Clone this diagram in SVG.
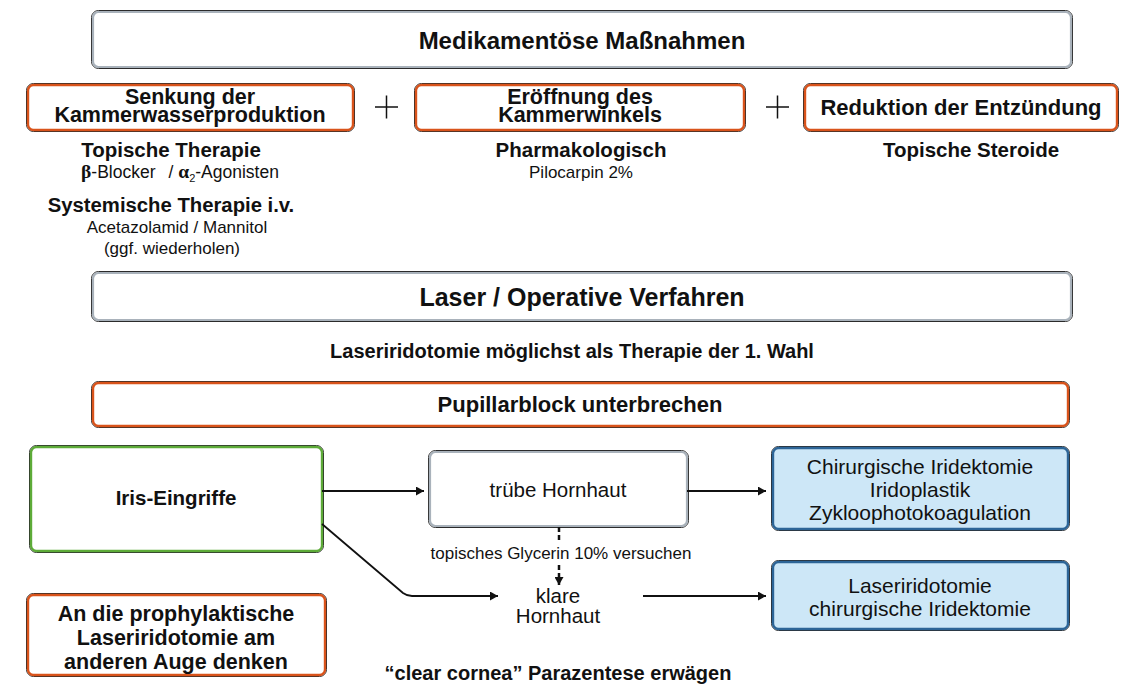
<svg xmlns="http://www.w3.org/2000/svg" width="1127" height="685" viewBox="0 0 1127 685">
<defs>
<style>
.b{font-family:"Liberation Sans",Arial,sans-serif;font-weight:bold;fill:#111;}
.r{font-family:"Liberation Sans",Arial,sans-serif;fill:#111;}
.gs{font-family:"Liberation Serif","Times New Roman",serif;font-weight:bold;}
.o{fill:none;stroke:#2b2b2b;stroke-width:1;}
.ig{fill:#fff;stroke:#a9b2bb;stroke-width:2.2;}
.io{fill:#fff;stroke:#d9531b;stroke-width:2.4;}
.ign{fill:#fff;stroke:#5dab38;stroke-width:2.4;}
.ib{fill:#cde7f7;stroke:#2d6597;stroke-width:2.4;}
.ln{fill:none;stroke:#111;stroke-width:1.8;}
.dl{fill:none;stroke:#111;stroke-width:2.5;stroke-dasharray:5 3;}
.pl{stroke:#111;stroke-width:1.5;}
</style>
<marker id="ah" markerWidth="9" markerHeight="9" refX="8" refY="4.5" orient="auto" markerUnits="userSpaceOnUse">
<path d="M0,0 L8,4.5 L0,9 z" fill="#111"/>
</marker>
</defs>

<g id="n-medikamentoes">
<rect class="o" x="91.5" y="10.5" width="981" height="58" rx="7"/>
<rect class="ig" x="93" y="12" width="978" height="55" rx="5.5"/>
<text class="b" x="582" y="49" font-size="24" text-anchor="middle">Medikamentöse Maßnahmen</text>
</g>

<g id="n-senkung">
<rect class="o" x="26.5" y="83.5" width="328" height="48" rx="7"/>
<rect class="io" x="28" y="85" width="325" height="45" rx="5.5"/>
<text class="b" x="190" y="104" font-size="21.5" text-anchor="middle">Senkung der</text>
<text class="b" x="190" y="122" font-size="21.5" text-anchor="middle">Kammerwasserproduktion</text>
</g>

<g id="plus1"><line class="pl" x1="375" y1="107" x2="398" y2="107"/><line class="pl" x1="386.5" y1="95.5" x2="386.5" y2="118.5"/></g>

<g id="n-eroeffnung">
<rect class="o" x="414.5" y="83.5" width="331" height="48" rx="7"/>
<rect class="io" x="416" y="85" width="328" height="45" rx="5.5"/>
<text class="b" x="580" y="104" font-size="21.5" text-anchor="middle">Eröffnung des</text>
<text class="b" x="580" y="122" font-size="21.5" text-anchor="middle">Kammerwinkels</text>
</g>

<g id="plus2"><line class="pl" x1="766" y1="107" x2="789" y2="107"/><line class="pl" x1="777.5" y1="95.5" x2="777.5" y2="118.5"/></g>

<g id="n-reduktion">
<rect class="o" x="803.5" y="83.5" width="315" height="48" rx="7"/>
<rect class="io" x="805" y="85" width="312" height="45" rx="5.5"/>
<text class="b" x="961" y="115" font-size="22" text-anchor="middle">Reduktion der Entzündung</text>
</g>

<g id="t-senkung-details">
<text class="b" x="171" y="157" font-size="20.5" text-anchor="middle">Topische Therapie</text>
<text class="r" x="180" y="178" font-size="17.5" text-anchor="middle"><tspan class="gs" font-size="19.5">β</tspan>-Blocker<tspan dx="13">/ </tspan><tspan class="gs" font-size="19.5">α</tspan><tspan font-size="11" dy="4">2</tspan><tspan dy="-4">-Agonisten</tspan></text>
<text class="b" x="171" y="212" font-size="20.3" text-anchor="middle">Systemische Therapie i.v.</text>
<text class="r" x="177" y="233" font-size="17" text-anchor="middle">Acetazolamid / Mannitol</text>
<text class="r" x="172" y="254" font-size="17" text-anchor="middle">(ggf. wiederholen)</text>
</g>

<g id="t-eroeffnung-details">
<text class="b" x="581" y="157" font-size="20.5" text-anchor="middle">Pharmakologisch</text>
<text class="r" x="581" y="178" font-size="17" text-anchor="middle">Pilocarpin 2%</text>
</g>

<g id="t-reduktion-details">
<text class="b" x="971" y="157" font-size="20.5" text-anchor="middle">Topische Steroide</text>
</g>

<g id="n-laser">
<rect class="o" x="91.5" y="271.5" width="981" height="50" rx="7"/>
<rect class="ig" x="93" y="273" width="978" height="47" rx="5.5"/>
<text class="b" x="582" y="306" font-size="25" text-anchor="middle">Laser / Operative Verfahren</text>
</g>

<g id="t-laseriridotomie">
<text class="b" x="572" y="358" font-size="20" text-anchor="middle">Laseriridotomie möglichst als Therapie der 1. Wahl</text>
</g>

<g id="n-pupillarblock">
<rect class="o" x="91.5" y="381.5" width="978" height="46" rx="7"/>
<rect class="io" x="93" y="383" width="975" height="43" rx="5.5"/>
<text class="b" x="580" y="412" font-size="22" text-anchor="middle">Pupillarblock unterbrechen</text>
</g>

<g id="n-iris">
<rect class="o" x="29.5" y="445.5" width="294" height="107" rx="7"/>
<rect class="ign" x="31" y="447" width="291" height="104" rx="5.5"/>
<text class="b" x="176" y="505" font-size="20.5" text-anchor="middle">Iris-Eingriffe</text>
</g>

<g id="n-prophylaktisch">
<rect class="o" x="26.5" y="593.5" width="300" height="83" rx="7"/>
<rect class="io" x="28" y="595" width="297" height="80" rx="5.5"/>
<text class="b" x="176" y="621" font-size="21.5" text-anchor="middle">An die prophylaktische</text>
<text class="b" x="176" y="645" font-size="21.5" text-anchor="middle">Laseriridotomie am</text>
<text class="b" x="176" y="669" font-size="21.5" text-anchor="middle">anderen Auge denken</text>
</g>

<g id="n-truebe">
<rect class="o" x="428.5" y="450.5" width="260" height="77" rx="7"/>
<rect class="ig" x="430" y="452" width="257" height="74" rx="5.5"/>
<text class="r" x="558" y="497" font-size="20.5" text-anchor="middle">trübe Hornhaut</text>
</g>

<g id="n-klare">
<text class="r" x="558" y="603" font-size="20.5" text-anchor="middle">klare</text>
<text class="r" x="558" y="623" font-size="20.5" text-anchor="middle">Hornhaut</text>
</g>

<g id="n-chirurgisch">
<rect class="o" x="771.5" y="446.5" width="298" height="84" rx="7"/>
<rect class="ib" x="773" y="448" width="295" height="81" rx="5.5"/>
<text class="r" x="920" y="474" font-size="21" text-anchor="middle">Chirurgische Iridektomie</text>
<text class="r" x="920" y="497" font-size="21" text-anchor="middle">Iridoplastik</text>
<text class="r" x="920" y="520" font-size="21" text-anchor="middle">Zykloophotokoagulation</text>
</g>

<g id="n-laser-chir">
<rect class="o" x="771.5" y="560.5" width="298" height="70" rx="7"/>
<rect class="ib" x="773" y="562" width="295" height="67" rx="5.5"/>
<text class="r" x="920" y="593" font-size="21" text-anchor="middle">Laseriridotomie</text>
<text class="r" x="920" y="616" font-size="21" text-anchor="middle">chirurgische Iridektomie</text>
</g>

<g id="t-parazentese">
<text class="b" x="558" y="680" font-size="20" text-anchor="middle">“clear cornea” Parazentese erwägen</text>
</g>

<g id="connectors">
<line class="ln" x1="322" y1="491" x2="424" y2="491" marker-end="url(#ah)"/>
<line class="ln" x1="687" y1="491" x2="766" y2="491" marker-end="url(#ah)"/>
<path class="ln" d="M322,524 L403,593 Q407,596 412,596 L498,596" marker-end="url(#ah)"/>
<line class="ln" x1="643" y1="596" x2="766" y2="596" marker-end="url(#ah)"/>
<line class="dl" x1="559" y1="527" x2="559" y2="543"/>
<line class="dl" x1="559" y1="565" x2="559" y2="585" marker-end="url(#ah)"/>
<text class="r" x="561" y="559" font-size="17" text-anchor="middle">topisches Glycerin 10% versuchen</text>
</g>
</svg>
